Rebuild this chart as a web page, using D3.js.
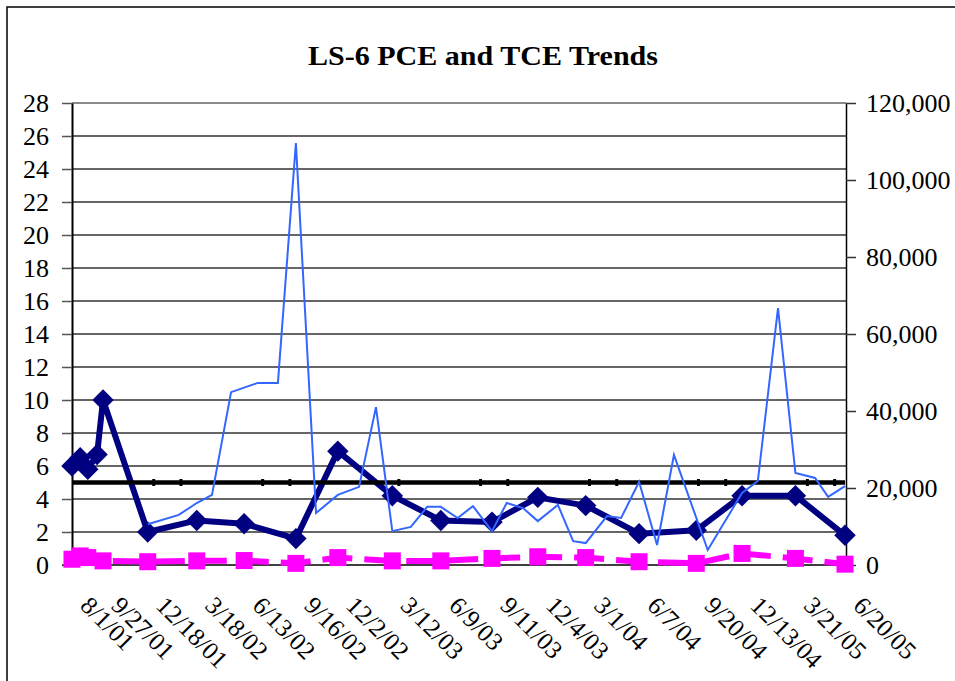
<!DOCTYPE html>
<html><head><meta charset="utf-8">
<script src="https://cdn.jsdelivr.net/npm/d3@7"></script>
<style>
body{margin:0;background:#fff}
svg{display:block}
svg text{fill:#000}
</style>
</head><body>
<svg id="chart" width="955" height="681"></svg>
<script>
// ---------------- DATA ----------------
const chartTitle = "LS-6 PCE and TCE Trends";
const xTickLabels = ["8/1/01","9/27/01","12/18/01","3/18/02","6/13/02","9/16/02","12/2/02","3/12/03","6/9/03","9/11/03","12/4/03","3/1/04","6/7/04","9/20/04","12/13/04","3/21/05","6/20/05"];
const leftTicks = [0,2,4,6,8,10,12,14,16,18,20,22,24,26,28];
const rightTicks = [0,20000,40000,60000,80000,100000,120000];

// TCE (navy, left axis)
const tceDates = ["8/1/01","8/16/01","8/30/01","9/16/01","9/27/01","12/18/01","3/18/02","6/13/02","9/16/02","12/2/02","3/12/03","6/9/03","9/11/03","12/4/03","3/1/04","6/7/04","9/20/04","12/13/04","3/21/05","6/20/05"];
const tceValues = [6.0,6.5,5.8,6.7,10.0,2.0,2.7,2.5,1.6,6.9,4.2,2.7,2.6,4.1,3.6,1.9,2.1,4.2,4.2,1.8];

// PCE (magenta, left axis)
const pceDates = ["8/1/01","8/16/01","8/30/01","9/27/01","12/18/01","3/18/02","6/13/02","9/16/02","12/2/02","3/12/03","6/9/03","9/11/03","12/4/03","3/1/04","6/7/04","9/20/04","12/13/04","3/21/05","6/20/05"];
const pceValues = [0.35,0.55,0.45,0.25,0.2,0.25,0.27,0.1,0.45,0.25,0.25,0.4,0.5,0.45,0.2,0.1,0.7,0.4,0.05];

// Secondary series (thin blue, right axis)
const secDates = ["12/18/01","2/13/02","3/18/02","4/15/02","5/20/02","7/8/02","8/14/02","9/16/02","10/23/02","12/2/02","1/10/03","2/10/03","3/12/03","4/15/03","5/15/03","6/9/03","7/10/03","8/7/03","9/11/03","10/8/03","11/7/03","12/4/03","1/10/04","2/7/04","3/1/04","4/9/04","5/5/04","6/7/04","7/10/04","8/10/04","10/11/04","12/13/04","1/11/05","2/17/05","3/21/05","4/26/05","5/20/05","6/20/05"];
const secValues = [10600,13000,16100,18200,44900,47300,47300,109600,13500,18200,20300,41000,8800,9900,15100,15100,12200,15300,8800,16100,14800,11400,15600,6200,5700,12700,12200,21600,5200,28600,3900,18700,21800,66700,23900,22600,17700,20500];

// Reference level (black, left axis)
const mclDates = ["8/1/01","12/29/01","2/17/02","7/17/02","9/5/02","3/24/03","8/21/03","10/10/03","3/8/04","4/27/04","9/24/04","11/13/04","4/12/05","6/1/05","6/20/05"];
const mclValue = 5;

// ---------------- HELPERS ----------------
const parseDate = s => { const [m,d,y] = s.split("/").map(Number); return new Date(Date.UTC(2000+y, m-1, d)); };
const FONT = "'Liberation Serif', Tinos, 'Times New Roman', 'DejaVu Serif', serif";

const svg = d3.select("#chart");
const plot = {left:72, right:846, top:103, bottom:565};

// outer frame
svg.append("rect").attr("x",7).attr("y",7).attr("width",980).attr("height",720)
  .attr("fill","none").attr("stroke","#000").attr("stroke-width",1.5);

// title
svg.append("text").attr("x",483).attr("y",65).attr("text-anchor","middle")
  .attr("font-family",FONT).attr("font-size",28).attr("font-weight","bold")
  .attr("textLength",350).attr("lengthAdjust","spacingAndGlyphs").text(chartTitle);

// scales
const x = d3.scaleUtc()
  .domain([parseDate(xTickLabels[0]), parseDate(xTickLabels[xTickLabels.length-1])])
  .range([plot.left, plot.right-1]);
const yL = d3.scaleLinear().domain([0,28]).range([plot.bottom, plot.top]);
const yR = d3.scaleLinear().domain([0,120000]).range([plot.bottom, plot.top]);

// gridlines
svg.append("g").selectAll("line").data(leftTicks).join("line")
  .attr("x1",plot.left).attr("x2",plot.right)
  .attr("y1",d=>yL(d)).attr("y2",d=>yL(d))
  .attr("stroke",d=> d===28 ? "#8a8a8a" : "#333")
  .attr("stroke-width",d=> d===28 ? 2.2 : 1.3);

// left axis
const gL = svg.append("g").attr("transform",`translate(${plot.left},0)`)
  .call(d3.axisLeft(yL).tickValues(leftTicks).tickSize(10).tickPadding(13).tickSizeOuter(0));
gL.attr("font-family",FONT).attr("font-size",26);
gL.select(".domain").attr("stroke","#000").attr("stroke-width",2);
gL.selectAll(".tick line").attr("stroke","#555").attr("stroke-width",1.5);
gL.selectAll(".tick text").attr("fill","#000");

// right axis
const gR = svg.append("g").attr("transform",`translate(${plot.right},0)`)
  .call(d3.axisRight(yR).tickValues(rightTicks).tickFormat(d3.format(",")).tickSize(10).tickPadding(10).tickSizeOuter(0));
gR.attr("font-family",FONT).attr("font-size",26);
gR.select(".domain").attr("stroke","#000").attr("stroke-width",1.5);
gR.selectAll(".tick line").attr("stroke","#333").attr("stroke-width",1.5);
gR.selectAll(".tick text").attr("fill","#000");

// x axis baseline
svg.append("line").attr("x1",plot.left-10).attr("x2",plot.right)
  .attr("y1",plot.bottom).attr("y2",plot.bottom).attr("stroke","#333").attr("stroke-width",1.5);

// x tick labels (rotated)
svg.append("g").attr("font-family",FONT).attr("font-size",25)
  .selectAll("text").data(xTickLabels).join("text")
  .attr("transform",d=>`translate(${x(parseDate(d))+7},${607}) rotate(45)`)
  .attr("text-anchor","start").text(d=>d);

// series
const tce = tceDates.map((d,i)=>({date:parseDate(d), v:tceValues[i]}));
const pce = pceDates.map((d,i)=>({date:parseDate(d), v:pceValues[i]}));
const sec = secDates.map((d,i)=>({date:parseDate(d), v:secValues[i]}));
const mcl = mclDates.map(d=>({date:parseDate(d), v:mclValue}));

const lineL = d3.line().x(d=>x(d.date)).y(d=>yL(d.v));
const lineR = d3.line().x(d=>x(d.date)).y(d=>yR(d.v));

// PCE magenta dashed
svg.append("path").datum(pce).attr("d",lineL).attr("fill","none")
  .attr("stroke","#FF00FF").attr("stroke-width",6).attr("stroke-dasharray","30,12");
svg.append("g").selectAll("path").data(pce).join("path")
  .attr("d",d3.symbol(d3.symbolSquare,289))
  .attr("transform",d=>`translate(${x(d.date)},${yL(d.v)})`).attr("fill","#FF00FF");

// TCE navy
svg.append("path").datum(tce).attr("d",lineL).attr("fill","none")
  .attr("stroke","#000080").attr("stroke-width",6).attr("stroke-linejoin","round");
svg.append("g").selectAll("path").data(tce).join("path")
  .attr("d",d3.symbol(d3.symbolSquare,230))
  .attr("transform",d=>`translate(${x(d.date)},${yL(d.v)}) rotate(45)`).attr("fill","#000080");

// reference line
svg.append("path").datum(mcl).attr("d",lineL).attr("fill","none")
  .attr("stroke","#000").attr("stroke-width",4.5);
svg.append("g").selectAll("line").data(mcl.slice(1,-1)).join("line")
  .attr("x1",d=>x(d.date)).attr("x2",d=>x(d.date))
  .attr("y1",d=>yL(d.v)-3.5).attr("y2",d=>yL(d.v)+3.5)
  .attr("stroke","#000").attr("stroke-width",3);

// secondary thin blue
svg.append("path").datum(sec).attr("d",lineR).attr("fill","none")
  .attr("stroke","#3366FF").attr("stroke-width",2).attr("stroke-linejoin","miter");
</script>
</body></html>
